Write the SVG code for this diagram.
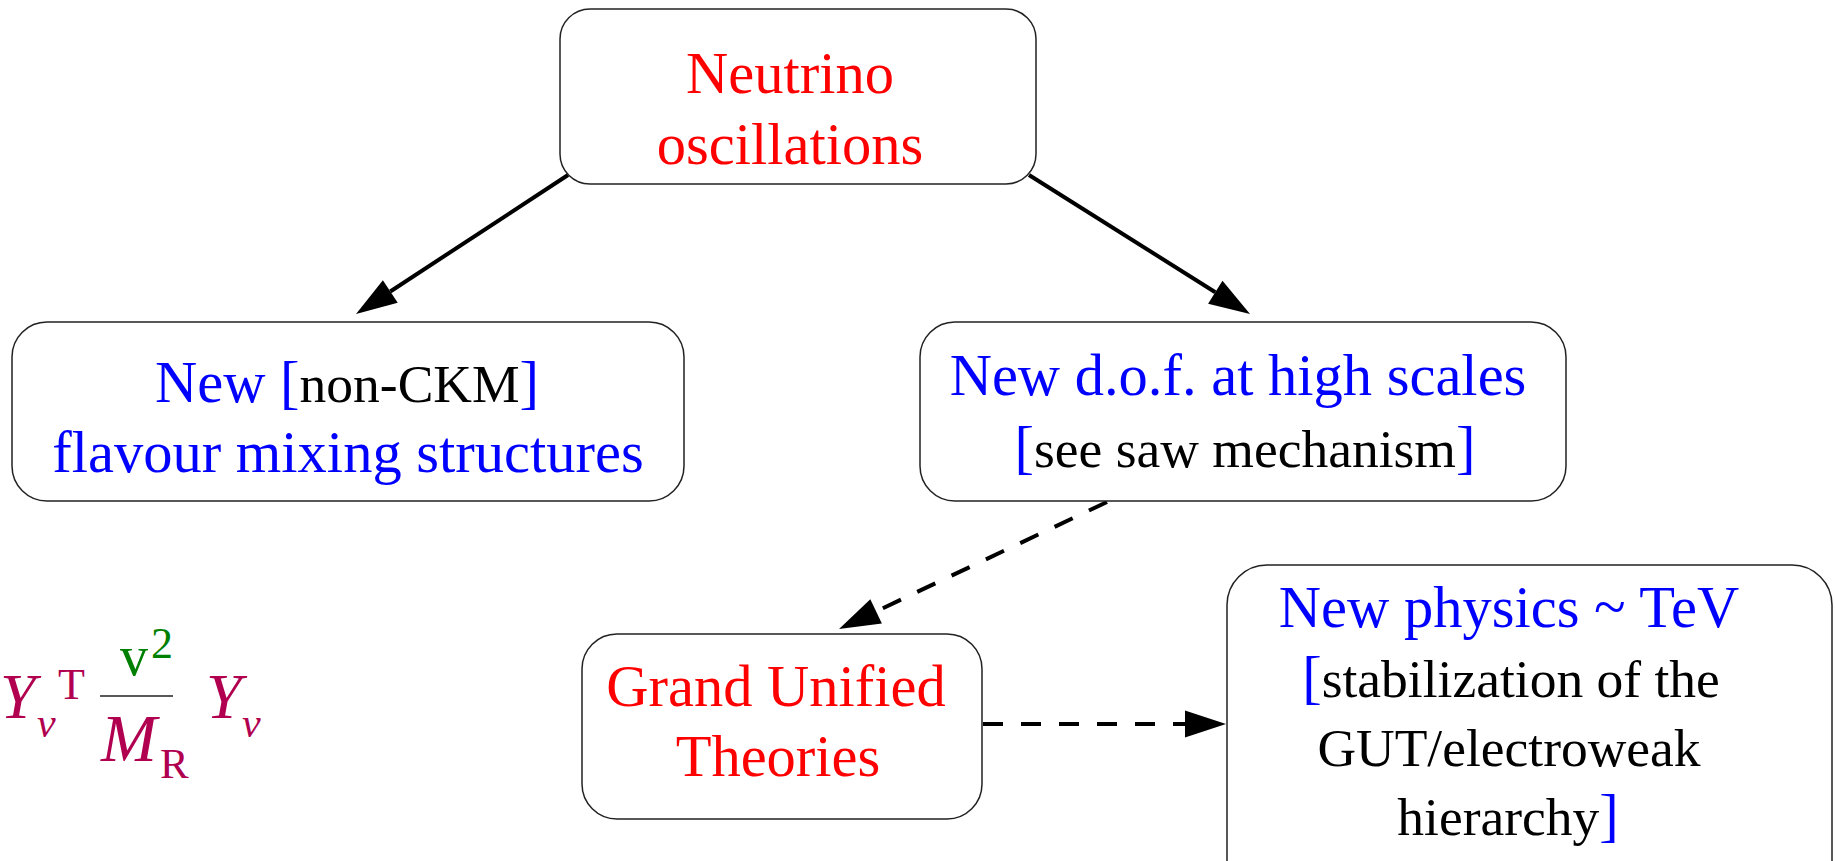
<svg xmlns="http://www.w3.org/2000/svg" width="1835" height="861" viewBox="0 0 1835 861">
<style>
.box{fill:#fff;stroke:#222;stroke-width:1.5}
.t{font-family:"Liberation Serif","Times New Roman",serif;font-size:58.5px;text-anchor:middle}
.s{font-size:53.5px}
.red{fill:#ff0000}.blue{fill:#0000ff}.blk{fill:#000}
.con{stroke:#000;stroke-width:4;fill:none}
.dash{stroke-dasharray:20 18}
.f{font-family:"Liberation Serif","Times New Roman",serif;fill:#b0004f}
.it{font-style:italic}
</style>
<defs>
<marker id="ah" markerUnits="userSpaceOnUse" markerWidth="44" markerHeight="30" refX="0" refY="14" orient="auto" overflow="visible">
<path d="M0,0.5 L41,14 L0,27.5 Z" fill="#000"/>
</marker>
</defs>
<g id="connectors">
<line class="con" x1="568" y1="175" x2="390.3" y2="291.5" marker-end="url(#ah)"/>
<line class="con" x1="1029" y1="175" x2="1215.3" y2="292.2" marker-end="url(#ah)"/>
<line class="con dash" x1="1107" y1="502" x2="876.1" y2="611.4" marker-end="url(#ah)"/>
<line class="con dash" x1="983" y1="724" x2="1185" y2="724" marker-end="url(#ah)"/>
</g>
<g id="neutrino">
<rect class="box" x="560" y="9" width="476" height="175" rx="30"/>
<text class="t red" x="790" y="93">Neutrino</text>
<text class="t red" x="790" y="164">oscillations</text>
</g>
<g id="flavour">
<rect class="box" x="12" y="322" width="672" height="179" rx="35"/>
<text class="t blue" x="347" y="402">New [<tspan class="blk s">non-CKM</tspan>]</text>
<text class="t blue" x="348" y="472">flavour mixing structures</text>
</g>
<g id="dof">
<rect class="box" x="920" y="322" width="646" height="179" rx="35"/>
<text class="t blue" x="1238" y="395">New d.o.f. at high scales</text>
<text class="t blue" x="1245" y="467">[<tspan class="blk s">see saw mechanism</tspan>]</text>
</g>
<g id="gut">
<rect class="box" x="582" y="634" width="400" height="185" rx="35"/>
<text class="t red" x="776" y="706">Grand Unified</text>
<text class="t red" x="778" y="776">Theories</text>
</g>
<g id="tev">
<rect class="box" x="1227" y="565" width="605" height="340" rx="40"/>
<text class="t blue" x="1509" y="627">New physics ~ TeV</text>
<text class="t blue" x="1511" y="697">[<tspan class="blk s">stabilization of the</tspan></text>
<text class="t blk s" x="1509" y="766">GUT/electroweak</text>
<text class="t blk" x="1508" y="835"><tspan class="s">hierarchy</tspan><tspan class="blue">]</tspan></text>
</g>
<g id="formula">
<text class="f it" x="0" y="718" font-size="64">Y</text>
<text class="f it" x="37" y="737" font-size="42">ν</text>
<text class="f" x="58" y="699" font-size="44">T</text>
<line x1="100" y1="696" x2="173" y2="696" stroke="#222" stroke-width="1.5"/>
<text x="120" y="675" font-size="56" font-family="Liberation Serif, serif" fill="#008000">v</text>
<text x="151" y="658" font-size="44" font-family="Liberation Serif, serif" fill="#008000">2</text>
<text class="f it" x="101" y="761" font-size="67">M</text>
<text class="f" x="160" y="778" font-size="43">R</text>
<text class="f it" x="206" y="718" font-size="64">Y</text>
<text class="f it" x="242" y="737" font-size="42">ν</text>
</g>
</svg>
